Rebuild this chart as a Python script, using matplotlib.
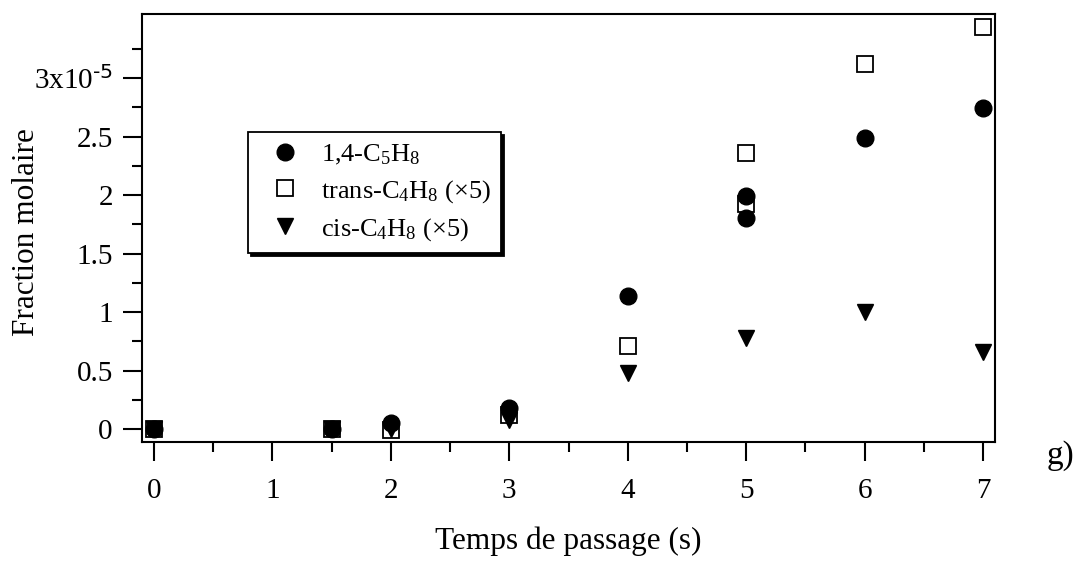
import matplotlib
matplotlib.use("Agg")
import matplotlib.pyplot as plt
from matplotlib.ticker import FixedLocator, FixedFormatter

plt.rcParams["font.family"] = ["Liberation Serif", "DejaVu Serif"]
plt.rcParams["mathtext.default"] = "regular"

# mole fractions, in units of 1e-5
x_c5h8 = [0, 1.5, 2, 3, 4, 5, 5, 6, 7]
y_c5h8 = [0, 0, 0.05, 0.18, 1.14, 1.99, 1.80, 2.49, 2.74]

x_trans = [0, 1.5, 2, 3, 4, 5, 5, 6, 7]
y_trans = [0, 0, -0.01, 0.12, 0.71, 2.36, 1.92, 3.12, 3.44]

x_cis = [0, 1.5, 2, 3, 4, 5, 6, 7]
y_cis = [0, 0, 0, 0.08, 0.48, 0.78, 1.00, 0.66]

labels = [
    "1,4-C$_5$H$_8$",
    "trans-C$_4$H$_8$ (\u00d75)",
    "cis-C$_4$H$_8$ (\u00d75)",
]

y_major = [0, 0.5, 1, 1.5, 2, 2.5, 3]
y_major_labels = ["0", "0.5", "1", "1.5", "2", "2.5", "3x10$^{\\text{-5}}$"]
y_minor = [0.25, 0.75, 1.25, 1.75, 2.25, 2.75, 3.25]
x_major = [0, 1, 2, 3, 4, 5, 6, 7]
x_minor = [0.5, 1.5, 2.5, 3.5, 4.5, 5.5, 6.5]

fig = plt.figure(figsize=(10.8, 5.62), dpi=100)
ax = fig.add_axes((0.1315, 0.2135, 0.7898, 0.7616))

sq = ax.plot(x_trans, y_trans, linestyle="none", marker="s", markersize=11.5,
             markerfacecolor="white", markeredgecolor="black",
             markeredgewidth=1.3, zorder=3)[0]
ci = ax.plot(x_c5h8, y_c5h8, linestyle="none", marker="o", markersize=12,
             color="black", zorder=4)[0]
tr = ax.plot(x_cis, y_cis, linestyle="none", marker="v", markersize=11,
             color="black", zorder=5)[0]

ax.set_xlim(-0.10, 7.10)
ax.set_ylim(-0.11, 3.547)

ax.xaxis.set_major_locator(FixedLocator(x_major))
ax.xaxis.set_minor_locator(FixedLocator(x_minor))
ax.yaxis.set_major_locator(FixedLocator(y_major))
ax.yaxis.set_major_formatter(FixedFormatter(y_major_labels))
ax.yaxis.set_minor_locator(FixedLocator(y_minor))

ax.tick_params(which="both", direction="out", width=1.5, labelsize=21,
               top=False, right=False)
ax.tick_params(which="major", length=14)
ax.tick_params(which="minor", length=7.5)
ax.tick_params(axis="x", which="major", pad=12)
ax.tick_params(axis="y", which="major", pad=7)
for side in ax.spines.values():
    side.set_linewidth(1.5)

ax.set_xlabel("Temps de passage (s)", fontsize=22.5, labelpad=16)
ax.set_ylabel("Fraction molaire", fontsize=22.5)
ax.yaxis.set_label_coords(-0.118, 0.49)

leg = ax.legend([ci, sq, tr], labels, loc="upper left",
                bbox_to_anchor=(0.124, 0.724), borderaxespad=0,
                fontsize=19, frameon=True, fancybox=False,
                edgecolor="black", framealpha=1, borderpad=0.4,
                handlelength=2.05, handletextpad=0.32, labelspacing=0.42,
                shadow={"color": "black", "alpha": 1})
leg.get_frame().set_linewidth(1.3)

fig.text(0.969, 0.19, "g)", fontsize=24, va="center", ha="left")

fig.savefig("out.png", dpi=100)
